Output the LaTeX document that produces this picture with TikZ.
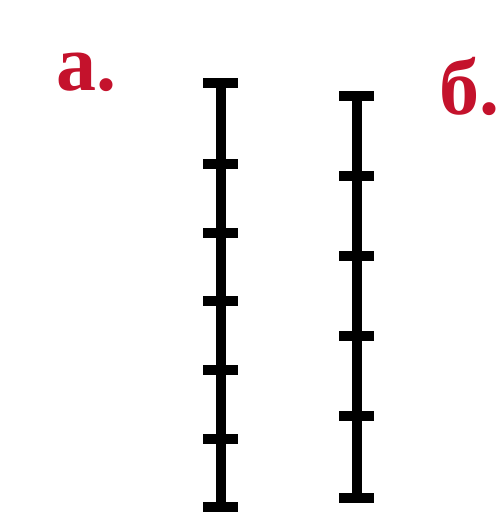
\documentclass[tikz,border=0pt]{standalone}
\usepackage{fontspec}
\setmainfont{Liberation Serif}
\definecolor{labelred}{RGB}{196,18,44}

\begin{document}
\begin{tikzpicture}[x=1pt,y=-1pt,
rod/.style = {line width=10pt},
lbl/.style = {text=labelred, font=\fontsize{80}{80}\selectfont\bfseries, anchor=base west, inner sep=0pt}]
\useasboundingbox (0,0) rectangle (501,515);
% labels
\node[lbl] (la) at (56,90) {а.};
\node[lbl] (lb) at (439,114) {б.};
% rod a
\coordinate (atop) at (221,83);
\coordinate (abot) at (221,507);
\draw[rod] (atop) -- (abot);
\foreach \y in {83,164,233,301,370,439,507}
    \draw[rod] (203,\y) -- (238,\y);
% rod b
\coordinate (btop) at (357,96);
\coordinate (bbot) at (357,498);
\draw[rod] (btop) -- (bbot);
\foreach \y in {96,176,256,336,416,498}
    \draw[rod] (339,\y) -- (374,\y);
\end{tikzpicture}
\end{document}
